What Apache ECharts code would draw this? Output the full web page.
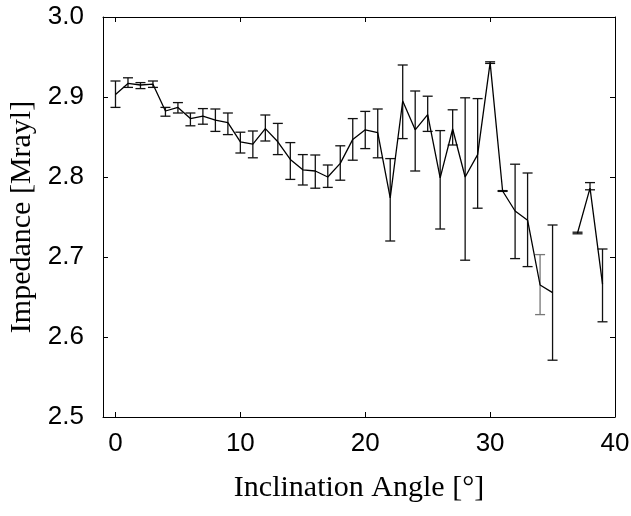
<!DOCTYPE html>
<html>
<head>
<meta charset="utf-8">
<script src="https://cdn.jsdelivr.net/npm/echarts@6/dist/echarts.min.js"></script>
<style>html,body{margin:0;padding:0;background:#fff;}#c{width:631px;height:516px;}</style>
</head>
<body>
<div id="c"></div>
<script>
var angles = [0,1,2,3,4,5,6,7,8,9,10,11,12,13,14,15,16,17,18,19,20,21,22,23,24,25,26,27,28,29,30,31,32,33,34,35,36,37,38,39];
var impedance = [2.903,2.917,2.915,2.916,2.8825,2.887,2.873,2.876,2.871,2.868,2.844,2.841,2.8605,2.844,2.822,2.809,2.8075,2.800,2.817,2.847,2.859,2.8555,2.774,2.895,2.859,2.878,2.799,2.860,2.800,2.828,2.943,2.7825,2.7575,2.746,2.665,2.6555,null,2.730,2.786,2.666];
var upper = [2.920,2.924,2.918,2.920,2.887,2.893,2.880,2.8855,2.885,2.880,2.856,2.8575,2.8775,2.867,2.843,2.828,2.8275,2.815,2.839,2.873,2.882,2.885,2.823,2.940,2.9075,2.901,2.858,2.884,2.899,2.898,2.944,2.783,2.816,2.805,2.703,2.740,null,2.731,2.793,2.710];
var lower = [2.887,2.912,2.9105,2.912,2.876,2.880,2.864,2.866,2.857,2.853,2.830,2.824,2.845,2.828,2.797,2.790,2.786,2.787,2.796,2.821,2.8355,2.824,2.720,2.848,2.8075,2.857,2.735,2.840,2.696,2.761,2.942,2.782,2.698,2.688,2.628,2.571,null,2.729,2.784,2.619];
var xTicks = [0,10,20,30,40];
var yTicks = [2.5,2.6,2.7,2.8,2.9,3.0];

var lineData = angles.map(function(a,i){ return [a, impedance[i]]; });
var errData = [];
angles.forEach(function(a,i){ if (upper[i] != null) errData.push([a, lower[i], upper[i]]); });

var chart = echarts.init(document.getElementById('c'), null, {renderer:'canvas'});
var tickFont = {fontFamily:'Liberation Sans', fontSize:26, color:'#000'};
chart.setOption({
  animation:false,
  backgroundColor:'#fff',
  grid:{left:103, right:16, top:17, bottom:99, containLabel:false, outerBoundsMode:'none'},
  xAxis:[{
    type:'value', min:-1, max:40,
    name:'Inclination Angle [°]', nameLocation:'middle', nameGap:56,
    nameTextStyle:{fontFamily:'Liberation Serif', fontSize:30, color:'#000'},
    axisLine:{onZero:false, lineStyle:{color:'#000', width:1}},
    axisTick:{inside:true, length:5, lineStyle:{color:'#000'}, customValues:xTicks},
    axisLabel:Object.assign({margin:14, customValues:xTicks}, tickFont),
    splitLine:{show:false}
  },{
    type:'value', min:-1, max:40, position:'top',
    axisLine:{onZero:false, lineStyle:{color:'#000', width:1}},
    axisTick:{inside:true, length:5, lineStyle:{color:'#000'}, customValues:xTicks},
    axisLabel:{show:false}, splitLine:{show:false}
  }],
  yAxis:[{
    type:'value', min:2.5, max:3.0, interval:0.1,
    name:'Impedance [Mrayl]', nameLocation:'middle', nameGap:66,
    nameTextStyle:{fontFamily:'Liberation Serif', fontSize:30, color:'#000'},
    axisLine:{show:true, onZero:false, lineStyle:{color:'#000', width:1}},
    axisTick:{inside:true, length:5, lineStyle:{color:'#000'}},
    axisLabel:Object.assign({margin:19, formatter:function(v){return v.toFixed(1);}}, tickFont),
    splitLine:{show:false}
  },{
    type:'value', min:2.5, max:3.0, interval:0.1, position:'right',
    axisLine:{show:true, onZero:false, lineStyle:{color:'#000', width:1}},
    axisTick:{inside:true, length:5, lineStyle:{color:'#000'}},
    axisLabel:{show:false}, splitLine:{show:false}
  }],
  series:[{
    type:'custom',
    data:errData,
    encode:{x:0, y:[1,2]},
    renderItem:function(params, api){
      var x = api.value(0);
      var lo = api.coord([x, api.value(1)]);
      var hi = api.coord([x, api.value(2)]);
      var hw = 5;
      var col = x === 34 ? '#777' : '#111';
      var st = {stroke:col, lineWidth:1.3};
      return {type:'group', children:[
        {type:'line', shape:{x1:lo[0], y1:lo[1], x2:hi[0], y2:hi[1]}, style:st},
        {type:'line', shape:{x1:lo[0]-hw, y1:lo[1], x2:lo[0]+hw, y2:lo[1]}, style:st},
        {type:'line', shape:{x1:hi[0]-hw, y1:hi[1], x2:hi[0]+hw, y2:hi[1]}, style:st}
      ]};
    },
    silent:true, z:2
  },{
    type:'line',
    data:lineData,
    showSymbol:false, symbol:'none',
    connectNulls:false,
    lineStyle:{color:'#000', width:1.3},
    silent:true, z:3
  }]
});
</script>
</body>
</html>
